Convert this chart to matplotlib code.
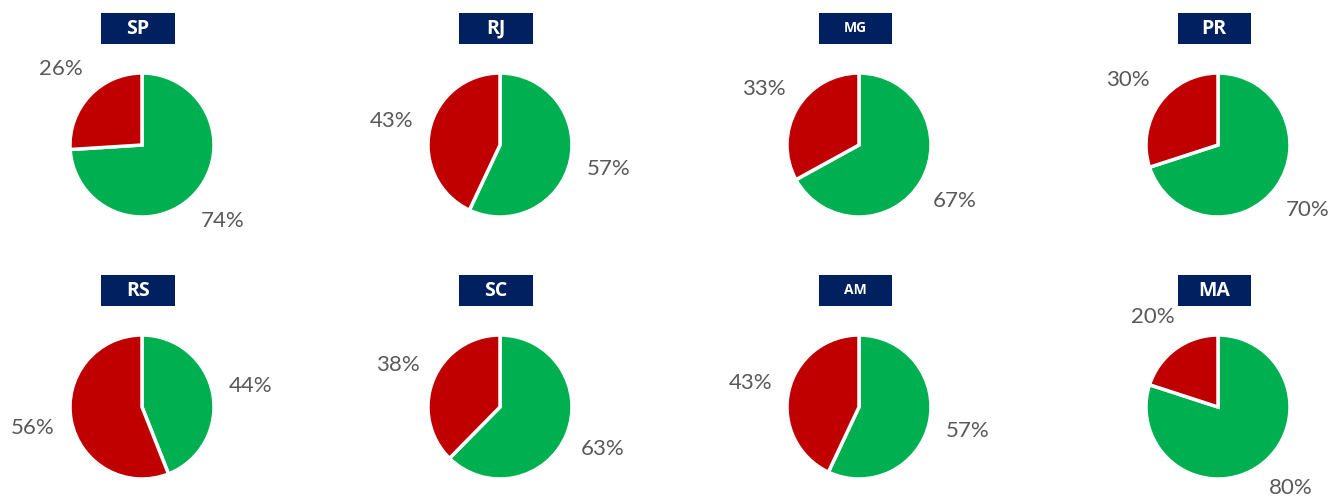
import matplotlib.pyplot as plt
from matplotlib.patches import Rectangle

# data: share of "yes" (green) and "no" (red) per state
states = ["SP", "RJ", "MG", "PR", "RS", "SC", "AM", "MA"]
green_pct = [74, 57, 67, 70, 44, 63, 57, 80]
red_pct = [26, 43, 33, 30, 56, 38, 43, 20]

GREEN = "#00B050"
RED = "#C00000"
NAVY = "#002060"
GREY = "#595959"

W, H = 1335, 499
fig = plt.figure(figsize=(W / 100, H / 100), dpi=100)
fig.patch.set_facecolor("white")

col_x = [142, 500, 859, 1218]
row_y = [145, 407]
radius = 72
title_small = {"MG", "AM"}

for i, st in enumerate(states):
    cx = col_x[i % 4]
    cy = row_y[i // 4]
    ax = fig.add_axes([(cx - radius) / W, (H - cy - radius) / H,
                       2 * radius / W, 2 * radius / H])
    vals = [green_pct[i], red_pct[i]]
    labs = ["%d%%" % v for v in vals]
    wedges, texts = ax.pie(vals, labels=labs, colors=[GREEN, RED],
                           startangle=90, counterclock=False,
                           labeldistance=1.54,
                           wedgeprops=dict(edgecolor="white", linewidth=2.5),
                           textprops=dict(color=GREY, fontsize=16,
                                          family="Lato"))
    for t in texts:
        t.set_ha("center")
        t.set_va("center")
        x, y = t.get_position()
        # keep bottom labels inside the figure
        if y < -1.12:
            t.set_position((x + 0.1, -1.12))
    ax.set_xlim(-1, 1)
    ax.set_ylim(-1, 1)
    ax.set_aspect("equal")
    ax.axis("off")

    # title box
    bw, bh = 73, 31
    bx = cx - 4
    by = cy - 132
    fig.add_artist(Rectangle(((bx - bw / 2) / W, (H - by - bh) / H),
                             bw / W, bh / H, transform=fig.transFigure,
                             facecolor=NAVY, edgecolor="none"))
    fig.text(bx / W, (H - by - bh / 2) / H, st, color="white",
             fontsize=10 if st in title_small else 14, fontweight="bold",
             family="Open Sans", ha="center", va="center")

fig.savefig("out.png", dpi=100, facecolor="white")
